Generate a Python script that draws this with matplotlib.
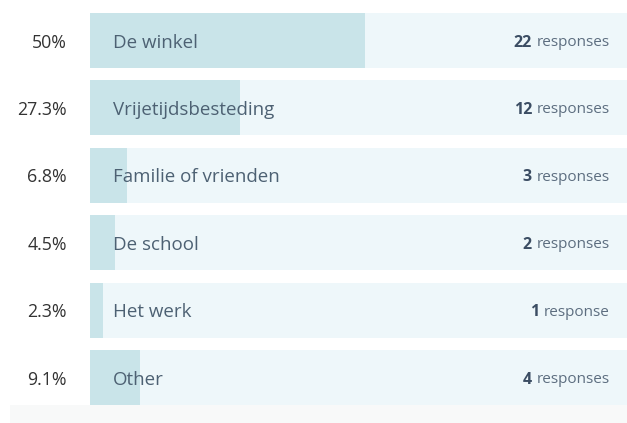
import matplotlib
matplotlib.use("Agg")
import matplotlib.pyplot as plt
import matplotlib.transforms as mtransforms

plt.rcParams["font.family"] = ["Open Sans", "DejaVu Sans"]

# Survey data
labels = ["De winkel", "Vrijetijdsbesteding", "Familie of vrienden",
          "De school", "Het werk", "Other"]
percents = [50, 27.3, 6.8, 4.5, 2.3, 9.1]
pct_text = ["50%", "27.3%", "6.8%", "4.5%", "2.3%", "9.1%"]
counts = [22, 12, 3, 2, 1, 4]

W, H = 627, 423
fig = plt.figure(figsize=(W / 100, H / 100), dpi=100)
fig.patch.set_facecolor("white")

# bottom strip (next panel peeking in)
strip = fig.add_axes([10 / W, 0, 1 - 10 / W, 18 / H])
strip.set_facecolor("#f8f9f9")
strip.set_xticks([])
strip.set_yticks([])
for s in strip.spines.values():
    s.set_visible(False)

ax = fig.add_axes([90 / W, 0, 1 - 90 / W, 1])
ax.set_facecolor("none")
for s in ax.spines.values():
    s.set_visible(False)
ax.set_xticks([])
ax.set_yticks([])

full = 549.0  # px for 100%
ax.set_xlim(0, 100 * (W - 90) / full)
step = 67.4
top0 = 40.5
ax.set_ylim((H - top0) / step, -top0 / step)

ypos = list(range(len(labels)))
ax.barh(ypos, [100] * len(labels), height=0.815, color="#eef7fa", linewidth=0)
ax.barh(ypos, percents, height=0.815, color="#c9e4e9", linewidth=0)

# text sits ~2px below bar centre
dy = 2.0 / step
tr_left = mtransforms.blended_transform_factory(fig.transFigure, ax.transData)
for y, lab, pt, c in zip(ypos, labels, pct_text, counts):
    ax.text(4.2, y + dy, lab, ha="left", va="center", fontsize=13.5, color="#4d6173")
    ax.text(67 / W, y + dy, pt, transform=tr_left, ha="right", va="center",
            fontsize=12.8, color="#333333")
    word = "responses" if c != 1 else "response"
    t = ax.text(610 / W, y + dy, word, transform=tr_left, ha="right", va="center",
                fontsize=11, color="#5d6e80")
    ax.annotate(str(c), xy=(0, 0.5), xycoords=t, xytext=(-3.5, 0),
                textcoords="offset points", ha="right", va="center",
                fontsize=11.5, fontweight="bold", color="#3b4d63")

fig.savefig("out.png", dpi=100, facecolor=fig.get_facecolor())
